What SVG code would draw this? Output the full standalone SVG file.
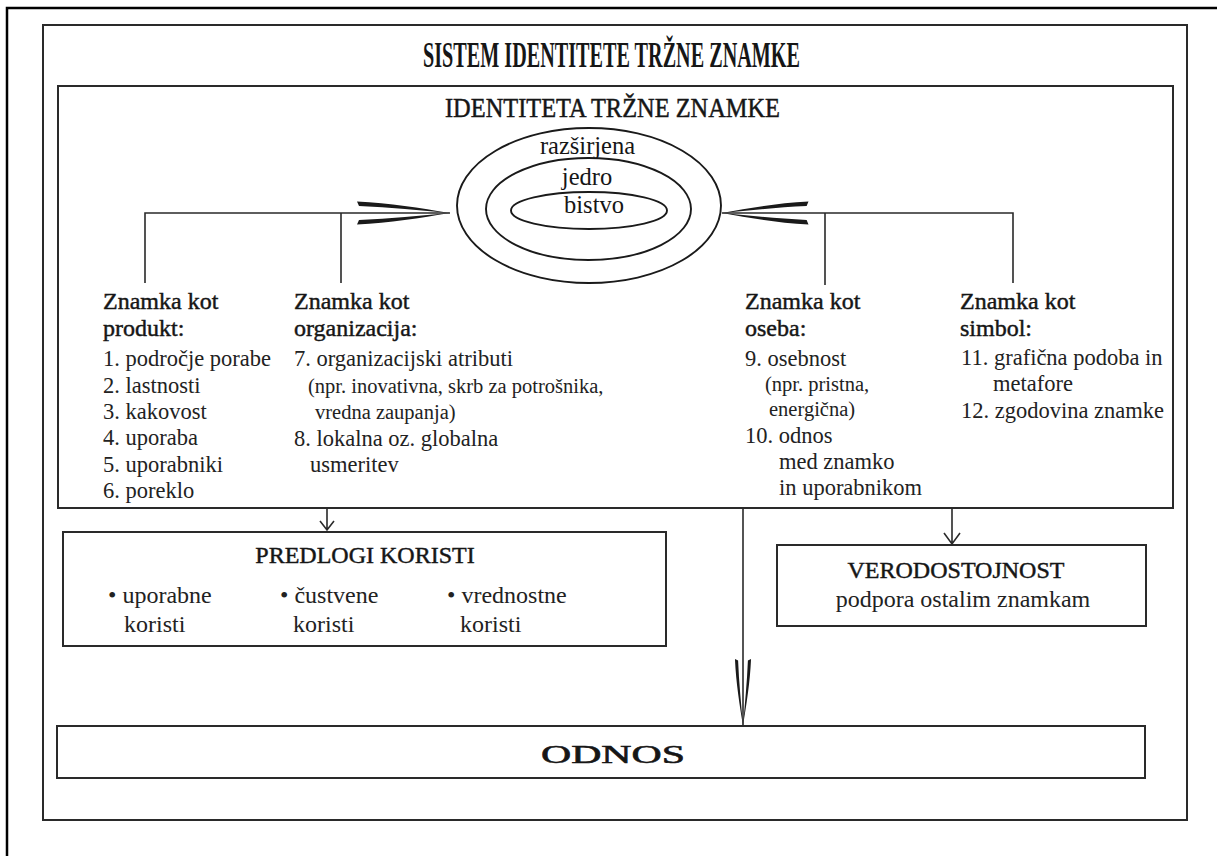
<svg xmlns="http://www.w3.org/2000/svg" width="1217" height="856" viewBox="0 0 1217 856">
  <style>
    text { font-family: "Liberation Serif", "Times New Roman", serif; fill: #161616; }
    .frame { fill: none; stroke: #000; stroke-width: 2.5; }
    .box { fill: none; stroke: #2a2a2a; stroke-width: 2; }
    .ell { fill: none; stroke: #1a1a1a; stroke-width: 1.9; }
    .line { fill: none; stroke: #2a2a2a; stroke-width: 1.6; }
    .spike { fill: #1a1a1a; }
    .title { font-size: 36px; font-weight: bold; }
    .sub { font-size: 28px; stroke: #161616; stroke-width: 0.5; }
    .ring { font-size: 24.5px; }
    .hd { font-size: 24px; stroke: #161616; stroke-width: 0.45; }
    .li { font-size: 22.5px; fill: #222; }
    .sm { font-size: 20.5px; fill: #222; }
    .bt { font-size: 24px; fill: #222; }
    .big { font-size: 25px; stroke: #161616; stroke-width: 0.6; }
  </style>
  <defs>
    <!-- long, thin tapered arrowhead pointing along +x with its tip at the origin -->
    <g id="spike">
      <path class="spike" d="M-93,-11.5 C-60,-10 -30,-5 0,0 C-30,-2.5 -60,-5.8 -91,-7 Z"/>
      <path class="spike" d="M-93,11.5 C-60,10 -30,5 0,0 C-30,2.5 -60,5.8 -91,7 Z"/>
    </g>
  </defs>

  <!-- page frame -->
  <rect class="frame" x="7" y="8" width="1230" height="870"/>

  <g id="system">
    <rect class="box" x="43" y="25" width="1144" height="795"/>
    <text class="title" x="611.5" y="67" text-anchor="middle" textLength="377" lengthAdjust="spacingAndGlyphs">SISTEM IDENTITETE TRŽNE ZNAMKE</text>
  </g>

  <g id="identity">
    <rect class="box" x="58" y="86" width="1115" height="422"/>
    <text class="sub" x="612.5" y="117" text-anchor="middle" textLength="335" lengthAdjust="spacingAndGlyphs">IDENTITETA TRŽNE ZNAMKE</text>
  </g>

  <g id="core">
    <ellipse class="ell" cx="589" cy="205.5" rx="132" ry="77.5"/>
    <ellipse class="ell" cx="588.5" cy="209" rx="102.5" ry="51"/>
    <ellipse class="ell" cx="589" cy="210.5" rx="78" ry="18.5"/>
    <text class="ring" x="587.5" y="154" text-anchor="middle">razširjena</text>
    <text class="ring" x="587" y="185" text-anchor="middle">jedro</text>
    <text class="ring" x="594" y="213" text-anchor="middle">bistvo</text>
  </g>

  <g id="product">
    <text class="hd" x="103" y="309">Znamka kot</text>
    <text class="hd" x="103" y="336">produkt:</text>
    <text class="li" x="103" y="366">1. področje porabe</text>
    <text class="li" x="103" y="393">2. lastnosti</text>
    <text class="li" x="103" y="419">3. kakovost</text>
    <text class="li" x="103" y="445">4. uporaba</text>
    <text class="li" x="103" y="472">5. uporabniki</text>
    <text class="li" x="103" y="498">6. poreklo</text>
  </g>

  <g id="organization">
    <text class="hd" x="294" y="309">Znamka kot</text>
    <text class="hd" x="294" y="336">organizacija:</text>
    <text class="li" x="294" y="366">7. organizacijski atributi</text>
    <text class="sm" x="308" y="393">(npr. inovativna, skrb za potrošnika,</text>
    <text class="sm" x="315" y="419">vredna zaupanja)</text>
    <text class="li" x="294" y="446">8. lokalna oz. globalna</text>
    <text class="li" x="310" y="472">usmeritev</text>
  </g>

  <g id="person">
    <text class="hd" x="745" y="309">Znamka kot</text>
    <text class="hd" x="745" y="336">oseba:</text>
    <text class="li" x="745" y="366">9. osebnost</text>
    <text class="sm" x="765" y="391">(npr. pristna,</text>
    <text class="sm" x="769" y="416">energična)</text>
    <text class="li" x="745" y="443">10. odnos</text>
    <text class="li" x="779" y="469">med znamko</text>
    <text class="li" x="779" y="495">in uporabnikom</text>
  </g>

  <g id="symbol">
    <text class="hd" x="960" y="309">Znamka kot</text>
    <text class="hd" x="960" y="336">simbol:</text>
    <text class="li" x="961" y="365">11. grafična podoba in</text>
    <text class="li" x="993" y="391">metafore</text>
    <text class="li" x="961" y="418">12. zgodovina znamke</text>
  </g>

  <g id="benefits">
    <rect class="box" x="63" y="532" width="603" height="114"/>
    <text class="hd" x="365" y="563" text-anchor="middle">PREDLOGI KORISTI</text>
    <text class="bt" x="108" y="603">• uporabne</text>
    <text class="bt" x="124" y="632">koristi</text>
    <text class="bt" x="280" y="603">• čustvene</text>
    <text class="bt" x="293" y="632">koristi</text>
    <text class="bt" x="447" y="603">• vrednostne</text>
    <text class="bt" x="460" y="632">koristi</text>
  </g>

  <g id="credibility">
    <rect class="box" x="777" y="545" width="369" height="81"/>
    <text class="hd" x="956" y="578" text-anchor="middle">VERODOSTOJNOST</text>
    <text class="bt" x="963" y="607" text-anchor="middle">podpora ostalim znamkam</text>
  </g>

  <g id="relationship">
    <rect class="box" x="57" y="726" width="1088" height="52"/>
    <text class="big" x="613" y="763" text-anchor="middle" textLength="144" lengthAdjust="spacingAndGlyphs">ODNOS</text>
  </g>

  <g id="connectors">
    <!-- left bracket: product and organization into the core -->
    <path class="line" d="M145,283 V213 H450 M341,213 V283"/>
    <use href="#spike" transform="translate(450,213)"/>
    <!-- right bracket: person and symbol into the core -->
    <path class="line" d="M1013,283 V213 H722 M825,213 V285"/>
    <use href="#spike" transform="translate(722,213) rotate(180) scale(0.93,1)"/>
    <!-- identity to value proposition -->
    <path class="line" d="M327,508 V530 M320,521 L327,530 L334,521"/>
    <!-- identity to credibility -->
    <path class="line" d="M952,508 V544 M944,533 L952,544 L960,533"/>
    <!-- identity to relationship -->
    <path class="line" d="M743,508 V726"/>
    <use href="#spike" transform="translate(743,726) rotate(90) scale(0.72,0.7)"/>
  </g>
</svg>
